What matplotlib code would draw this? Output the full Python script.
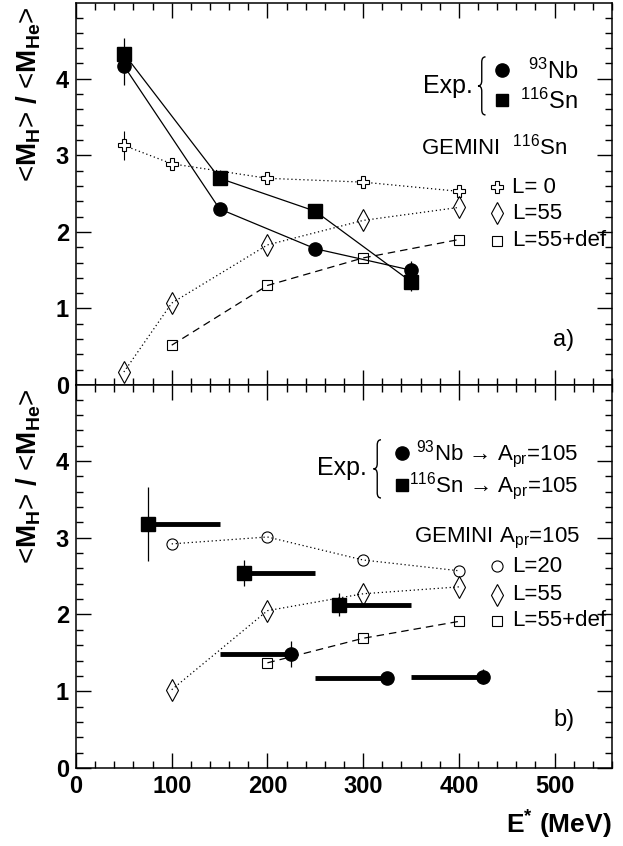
import numpy as np
import matplotlib
matplotlib.use("Agg")
import matplotlib.pyplot as plt
from matplotlib.ticker import MultipleLocator
from matplotlib.path import Path
from matplotlib.patches import PathPatch

plt.rcParams['font.family'] = ['Liberation Sans', 'DejaVu Sans']
plt.rcParams['mathtext.fontset'] = 'custom'
plt.rcParams['mathtext.rm'] = 'Liberation Sans'
plt.rcParams['mathtext.it'] = 'Liberation Sans:italic'
plt.rcParams['mathtext.bf'] = 'Liberation Sans:bold'

# ---- panel a) data ----
exp_x_a = [50, 150, 250, 350]
nb_a = [4.17, 2.30, 1.78, 1.50]
nb_a_err = [0.25, 0.04, 0.05, 0.12]
sn_a = [4.33, 2.70, 2.27, 1.35]
sn_a_err = [0.20, 0.06, 0.07, 0.12]

gem_x_a = [50, 100, 200, 300, 400]
gem_L0_a = [3.13, 2.89, 2.70, 2.65, 2.53]
gem_L0_a_err = [0.19, 0.03, 0.03, 0.03, 0.03]
gem_L55_a = [0.17, 1.07, 1.83, 2.15, 2.32]
gem_def_x_a = [100, 200, 300, 400]
gem_def_a = [0.52, 1.30, 1.66, 1.90]

# ---- panel b) data ----
sn_b_x = [75, 175, 275]
sn_b_hi = [150, 250, 350]
sn_b = [3.18, 2.54, 2.13]
sn_b_err = [0.48, 0.17, 0.15]
nb_b_x = [225, 325, 425]
nb_b_lo = [150, 250, 350]
nb_b = [1.48, 1.17, 1.19]
nb_b_err = [0.17, 0.0, 0.10]

gem_x_b = [100, 200, 300, 400]
gem_L20_b = [2.92, 3.01, 2.71, 2.57]
gem_L55_b = [1.02, 2.05, 2.27, 2.36]
gem_def_x_b = [200, 300, 400]
gem_def_b = [1.37, 1.69, 1.91]

W, H = 623, 846
fig = plt.figure(figsize=(W / 100, H / 100), dpi=100)
left, right = 76 / W, 612 / W
ax_a = fig.add_axes([left, 1 - 385 / H, right - left, (385 - 3) / H])
ax_b = fig.add_axes([left, 1 - 768 / H, right - left, (768 - 385) / H])

dot = (0, (1, 2.2))
dash = (0, (6, 4))
big_ms = 9.5


def style_axis(ax, show_xlabels):
    ax.set_xlim(0, 560)
    ax.set_ylim(0, 4.99)
    ax.xaxis.set_major_locator(MultipleLocator(100))
    ax.xaxis.set_minor_locator(MultipleLocator(20))
    ax.yaxis.set_major_locator(MultipleLocator(1))
    ax.yaxis.set_minor_locator(MultipleLocator(0.2))
    ax.tick_params(which='both', direction='in', top=True, right=True, width=1.0)
    ax.tick_params(which='major', length=11)
    ax.tick_params(which='minor', length=5)
    ax.tick_params(axis='both', labelsize=17, pad=5)
    ax.set_yticks([0, 1, 2, 3, 4])
    ax.set_yticklabels(['0', '1', '2', '3', '4'], fontweight='bold', fontsize=17)
    if show_xlabels:
        ax.set_xticks([0, 100, 200, 300, 400, 500])
        ax.set_xticklabels(['0', '100', '200', '300', '400', '500'], fontweight='bold', fontsize=17)
    else:
        ax.set_xticklabels([])
    for s in ax.spines.values():
        s.set_linewidth(1.1)


def brace(ax, x, ymid, half_h, w):
    # thin curly brace "{" in axes fraction coords
    xl, xm, xr = x - w / 2, x, x + w / 2
    top, bot = ymid + half_h, ymid - half_h
    r = half_h * 0.18
    verts = [(xr, top), (xm, top), (xm, top - r),
             (xm, ymid + r),
             (xm, ymid), (xl, ymid),
             (xm, ymid), (xm, ymid - r),
             (xm, bot + r),
             (xm, bot), (xr, bot)]
    codes = [Path.MOVETO, Path.CURVE3, Path.CURVE3,
             Path.LINETO,
             Path.CURVE3, Path.CURVE3,
             Path.CURVE3, Path.CURVE3,
             Path.LINETO,
             Path.CURVE3, Path.CURVE3]
    ax.add_patch(PathPatch(Path(verts, codes), fill=False, lw=1.0, ec='k',
                           transform=ax.transAxes, clip_on=False))


# ---------- panel a ----------
ax = ax_a
ax.plot(gem_x_a, gem_L0_a, color='k', lw=0.9, ls=dot, marker='P', ms=8,
        mfc='white', mec='k', mew=0.8, zorder=3)
ax.errorbar(gem_x_a, gem_L0_a, yerr=gem_L0_a_err, fmt='none', ecolor='k', elinewidth=0.8, zorder=2)
ax.plot(gem_x_a, gem_L55_a, color='k', lw=0.9, ls=dot, marker='d', ms=11,
        mfc='none', mec='k', mew=0.8, zorder=3)
ax.plot(gem_def_x_a, gem_def_a, color='k', lw=0.9, ls=dash, marker='s', ms=7,
        mfc='none', mec='k', mew=0.8, zorder=3)
ax.errorbar(exp_x_a, nb_a, yerr=nb_a_err, fmt='-o', color='k', lw=0.9, ms=big_ms,
            elinewidth=0.9, zorder=4)
ax.errorbar(exp_x_a, sn_a, yerr=sn_a_err, fmt='-s', color='k', lw=0.9, ms=big_ms,
            elinewidth=0.9, zorder=4)
style_axis(ax, False)

t = ax.transAxes
ax.text(0.647, 0.783, 'Exp.', transform=t, fontsize=18, va='center', ha='left')
brace(ax, 0.757, 0.783, 0.076, 0.014)
ax.plot([0.795], [0.825], 'o', color='k', ms=big_ms, transform=t, clip_on=False)
ax.plot([0.795], [0.746], 's', color='k', ms=big_ms - 0.5, transform=t, clip_on=False)
ax.text(0.937, 0.822, r'$^{93}$Nb', transform=t, fontsize=17, va='center', ha='right')
ax.text(0.937, 0.743, r'$^{116}$Sn', transform=t, fontsize=17, va='center', ha='right')
ax.text(0.644, 0.623, r'GEMINI  $^{116}$Sn', transform=t, fontsize=16, va='center', ha='left')
ax.plot([0.785], [0.518], 'P', ms=8, mfc='white', mec='k', mew=0.8, transform=t)
ax.plot([0.785], [0.450], 'd', ms=11, mfc='none', mec='k', mew=0.8, transform=t)
ax.plot([0.785], [0.377], 's', ms=7, mfc='none', mec='k', mew=0.8, transform=t)
ax.text(0.813, 0.518, 'L= 0', transform=t, fontsize=16, va='center', ha='left')
ax.text(0.813, 0.450, 'L=55', transform=t, fontsize=16, va='center', ha='left')
ax.text(0.813, 0.377, 'L=55+def', transform=t, fontsize=16, va='center', ha='left')
ax.text(0.93, 0.118, 'a)', transform=t, fontsize=17, va='center', ha='right')

# ---------- panel b ----------
ax = ax_b
ax.plot(gem_x_b, gem_L20_b, color='k', lw=0.9, ls=dot, marker='o', ms=8,
        mfc='none', mec='k', mew=0.8, zorder=3)
ax.plot(gem_x_b, gem_L55_b, color='k', lw=0.9, ls=dot, marker='d', ms=11,
        mfc='none', mec='k', mew=0.8, zorder=3)
ax.plot(gem_def_x_b, gem_def_b, color='k', lw=0.9, ls=dash, marker='s', ms=7,
        mfc='none', mec='k', mew=0.8, zorder=3)
ax.hlines(sn_b, sn_b_x, sn_b_hi, color='k', lw=3.5, zorder=4)
ax.hlines(nb_b, nb_b_lo, nb_b_x, color='k', lw=3.5, zorder=4)
ax.errorbar(sn_b_x, sn_b, yerr=sn_b_err, fmt='s', color='k', ms=big_ms, elinewidth=0.9, zorder=5)
ax.errorbar(nb_b_x, nb_b, yerr=nb_b_err, fmt='o', color='k', ms=big_ms, elinewidth=0.9, zorder=5)
style_axis(ax, True)

t = ax.transAxes
ax.text(0.45, 0.783, 'Exp.', transform=t, fontsize=18, va='center', ha='left')
brace(ax, 0.562, 0.781, 0.076, 0.014)
ax.plot([0.608], [0.822], 'o', color='k', ms=big_ms, transform=t)
ax.plot([0.608], [0.739], 's', color='k', ms=big_ms - 0.5, transform=t)
ax.text(0.937, 0.820, r'$^{93}$Nb → A$_{\rm pr}$=105', transform=t, fontsize=16,
        va='center', ha='right')
ax.text(0.937, 0.737, r'$^{116}$Sn → A$_{\rm pr}$=105', transform=t, fontsize=16,
        va='center', ha='right')
ax.text(0.94, 0.600, r'GEMINI A$_{\rm pr}$=105', transform=t, fontsize=16, va='center', ha='right')
ax.plot([0.785], [0.527], 'o', ms=8, mfc='none', mec='k', mew=0.8, transform=t)
ax.plot([0.785], [0.452], 'd', ms=11, mfc='none', mec='k', mew=0.8, transform=t)
ax.plot([0.785], [0.384], 's', ms=7, mfc='none', mec='k', mew=0.8, transform=t)
ax.text(0.813, 0.527, 'L=20', transform=t, fontsize=16, va='center', ha='left')
ax.text(0.813, 0.452, 'L=55', transform=t, fontsize=16, va='center', ha='left')
ax.text(0.813, 0.384, 'L=55+def', transform=t, fontsize=16, va='center', ha='left')
ax.text(0.93, 0.125, 'b)', transform=t, fontsize=17, va='center', ha='right')

ylab = r'<$\mathbf{M_{H}}$> $\mathbf{/}$ <$\mathbf{M_{He}}$>'
fig.text(29 / W, 1 - 6 / H, ylab, rotation=90, ha='center', va='top', fontsize=20)
fig.text(29 / W, 1 - 388 / H, ylab, rotation=90, ha='center', va='top', fontsize=20)
fig.text(612 / W, 1 - 825 / H, r'E$^{\mathbf{*}}$ (MeV)', ha='right', va='center',
         fontsize=19, fontweight='bold')

fig.savefig('out.png', dpi=100)
